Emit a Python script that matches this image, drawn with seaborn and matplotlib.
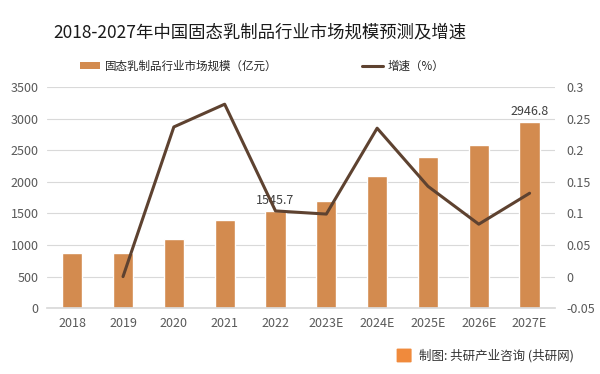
import numpy as np
import pandas as pd
import matplotlib
matplotlib.use("Agg")
import matplotlib.pyplot as plt
import seaborn as sns
from matplotlib.patches import FancyBboxPatch
from matplotlib.lines import Line2D
from matplotlib.patches import Patch

years = ["2018", "2019", "2020", "2021", "2022", "2023E", "2024E", "2025E", "2026E", "2027E"]
market_size = [880, 880, 1090, 1390, 1545.7, 1690, 2100, 2400, 2590, 2946.8]
growth = [np.nan, 0.0, 0.237, 0.273, 0.104, 0.099, 0.235, 0.143, 0.083, 0.132]
left_ticks = [0, 500, 1000, 1500, 2000, 2500, 3000, 3500]
right_ticks = [-0.05, 0, 0.05, 0.1, 0.15, 0.2, 0.25, 0.3]
right_labels = ["-0.05", "0", "0.05", "0.1", "0.15", "0.2", "0.25", "0.3"]
labelled = {"2022": "1545.7", "2027E": "2946.8"}

title = "2018-2027年中国固态乳制品行业市场规模预测及增速"
bar_name = "固态乳制品行业市场规模（亿元）"
line_name = "增速（%）"
source = "制图: 共研产业咨询 (共研网)"

sns.set_theme(style="white")
plt.rcParams["font.family"] = ["Noto Sans CJK SC", "DejaVu Sans"]

df = pd.DataFrame({"year": years, "size": market_size, "growth": growth})
df["pos"] = np.arange(len(df))

bar_color = "#D38B4F"
line_color = "#5E4230"
tick_color = "#595959"

fig = plt.figure(figsize=(6.0, 3.74), dpi=100)
ax = fig.add_axes([0.078, 0.176, 0.847, 0.591])
sns.barplot(data=df, x="year", y="size", color=bar_color, width=0.4,
            saturation=1, ax=ax)
ax.set_ylim(0, 3500)
ax.set_yticks(left_ticks)
ax.set_xlim(-0.5, len(years) - 0.5)
ax.grid(axis="y", color="#D9D9D9", linewidth=0.8)
ax.set_axisbelow(True)
for s in ax.spines.values():
    s.set_visible(False)
ax.spines["bottom"].set_visible(True)
ax.spines["bottom"].set_color("#D9D9D9")
ax.set_xlabel("")
ax.set_ylabel("")
ax.tick_params(axis="both", colors=tick_color, labelsize=9, length=0, pad=6)

for i, y in enumerate(years):
    if y in labelled:
        ax.text(i, market_size[i] + 60, labelled[y], ha="center", va="bottom",
                fontsize=9, color="#404040", zorder=5)

ax2 = ax.twinx()
sns.lineplot(data=df, x="pos", y="growth", color=line_color, linewidth=2.2, ax=ax2)
ax2.set_ylim(-0.05, 0.3)
ax2.set_yticks(right_ticks)
ax2.set_yticklabels(right_labels)
ax2.set_ylabel("")
for s in ax2.spines.values():
    s.set_visible(False)
ax2.tick_params(axis="y", colors=tick_color, labelsize=9, length=0, pad=8)
ax2.grid(False)

fig.text(0.433, 0.912, title, ha="center", va="center", fontsize=12.5, color="#1a1a1a")

handles = [Patch(facecolor=bar_color, edgecolor="none"),
           Line2D([0], [0], color=line_color, linewidth=2.2)]
fig.legend(handles, [bar_name, line_name], loc="center left", bbox_to_anchor=(0.133, 0.823),
           ncol=2, frameon=False, fontsize=8.3, columnspacing=7.4, handlelength=1.75,
           handleheight=0.6, handletextpad=0.4, labelcolor="#262626", borderaxespad=0,
           borderpad=0)

fig.add_artist(FancyBboxPatch((0.663, 0.033), 0.021, 0.033, boxstyle="round,pad=0.002",
                              transform=fig.transFigure, facecolor="#F08A3C",
                              edgecolor="none"))
fig.text(0.698, 0.05, source, ha="left", va="center", fontsize=9, color="#333333")

fig.savefig("out.png", dpi=100, facecolor="white")
